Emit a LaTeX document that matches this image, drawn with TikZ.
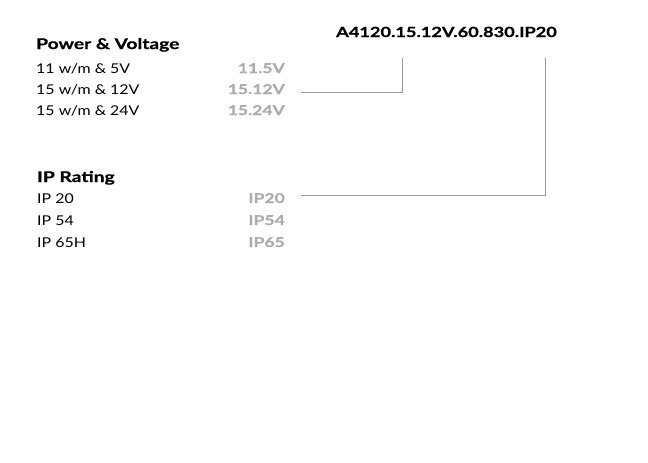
\documentclass[tikz,border=0pt]{standalone}
\usepackage{fontspec}
\setmainfont{Lato}[FakeStretch=1.18, BoldFeatures={FakeStretch=1.3, FakeBold=0.6}]
\usetikzlibrary{positioning}
\definecolor{valgrey}{RGB}{172,172,172}
\definecolor{linegrey}{RGB}{150,150,150}

\begin{document}
\begin{tikzpicture}[
    x=1pt, y=-1pt,
    head/.style={anchor=base west, inner sep=0pt, font=\fontsize{14.8}{16}\selectfont\bfseries},
    item/.style={anchor=base west, inner sep=0pt, font=\fontsize{13.5}{16}\selectfont},
    val/.style={anchor=base east, inner sep=0pt, text=valgrey, font=\fontsize{13.5}{16}\selectfont\bfseries},
    lead/.style={draw=linegrey, line width=0.9pt},
]
    \useasboundingbox (0,0) rectangle (648,463);
    % Product code
    \node[head, anchor=base east, font=\fontsize{14}{16}\selectfont\bfseries] (code) at (557,37) {A4120.15.12V.60.830.IP20};
    \coordinate (kvolt) at (402,58);
    \coordinate (kip) at (545,58);

    % Power & Voltage
    \node[head] (power) at (36,49) {Power \& Voltage};
    \node[item] (p1) at (36,73) {11 w/m \& 5V};
    \node[item] (p2) at (36,94) {15 w/m \& 12V};
    \node[item] (p3) at (36,115) {15 w/m \& 24V};
    \node[val] (v1) at (285,73) {11.5V};
    \node[val] (v2) at (285,94) {15.12V};
    \node[val] (v3) at (285,115) {15.24V};

    % IP Rating
    \node[head] (ip) at (37,182) {IP Rating};
    \node[item] (i1) at (37,203) {IP 20};
    \node[item] (i2) at (37,225) {IP 54};
    \node[item] (i3) at (37,247) {IP 65H};
    \node[val] (w1) at (285,203) {IP20};
    \node[val] (w2) at (285,225) {IP54};
    \node[val] (w3) at (285,247) {IP65};

    % Leaders
    \draw[lead] ([xshift=16pt, yshift=-3pt]v2.east) -| (kvolt);
    \draw[lead] ([xshift=16pt, yshift=3pt]w1.east) -| (kip);
\end{tikzpicture}
\end{document}
